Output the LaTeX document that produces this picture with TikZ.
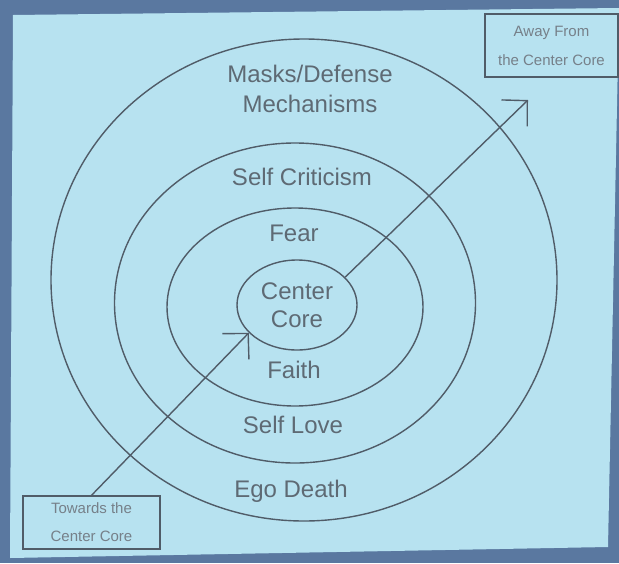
\documentclass[tikz,border=0pt]{standalone}
\usepackage{fontspec}
\setmainfont{Liberation Sans}
\usetikzlibrary{shapes.geometric,arrows.meta}
\definecolor{slidebg}{HTML}{B7E2F0}
\definecolor{framebg}{HTML}{5A78A0}
\definecolor{ink}{HTML}{505C68}
\definecolor{txt}{HTML}{5E6A74}
\begin{document}
\begin{tikzpicture}[x=1pt,y=-1pt,
  ring/.style={draw=ink, line width=1.4pt, ellipse, inner sep=0pt},
  lbl/.style={text=txt, font=\fontsize{24}{30}\selectfont, align=center, inner sep=0pt},
  smallbox/.style={draw=ink, line width=1.3pt, rectangle, inner sep=0pt, text=txt!85!white, font=\fontsize{15}{29}\selectfont, align=center},
  conn/.style={draw=ink, line width=1.4pt, -{Straight Barb[length=18pt,width=37pt]}}]
\useasboundingbox (0,0) rectangle (619,563);
\fill[framebg] (0,0) rectangle (619,563);
\fill[slidebg] (13,15) -- (619,8) -- (608,547) -- (10,558) -- cycle;
% rings
\node[ring, minimum width=506pt, minimum height=482pt] (outer) at (304,280) {};
\node[ring, minimum width=361pt, minimum height=320pt] (crit) at (295,303) {};
\node[ring, minimum width=256pt, minimum height=198pt] (fearring) at (295,307) {};
\node[ring, minimum width=120pt, minimum height=90pt, text=txt, font=\fontsize{24}{28}\selectfont, align=center] (core) at (297,305) {Center\\Core};
% labels
\node[lbl] (masks) at (310,89) {Masks/Defense\\Mechanisms};
\node[lbl] (crittext) at (302,177) {Self Criticism};
\node[lbl] (feartext) at (294,233) {Fear};
\node[lbl] (faith) at (294,370) {Faith};
\node[lbl] (love) at (293,425) {Self Love};
\node[lbl] (ego) at (291,491) {Ego Death};
% boxes
\node[smallbox, minimum width=133pt, minimum height=63pt] (away) at (551.5,45.5) {Away From\\the Center Core};
\node[smallbox, minimum width=137pt, minimum height=53pt, font=\fontsize{15}{28}\selectfont] (towards) at (91.5,522.5) {Towards the\\Center Core};
% arrows
\coordinate (awaytip) at (528,100);
\draw[conn] (towards.north) -- (core.210);
\draw[conn] (core.30) -- (awaytip);
\end{tikzpicture}
\end{document}
